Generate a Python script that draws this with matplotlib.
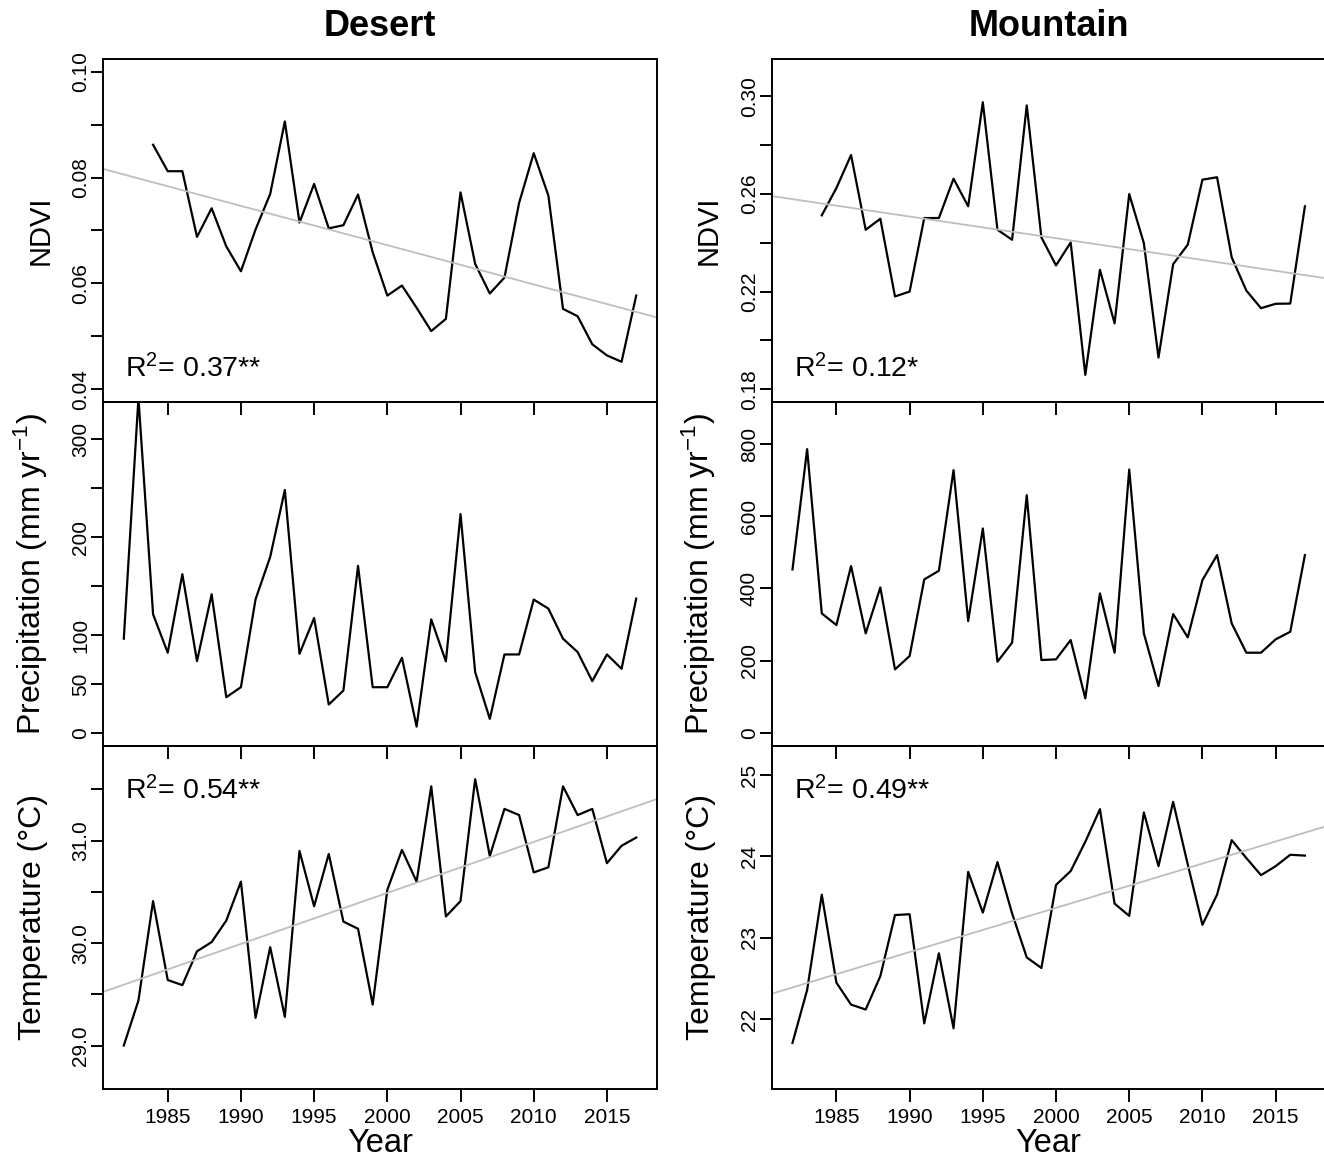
import numpy as np
import matplotlib
matplotlib.use("Agg")
import matplotlib.pyplot as plt

# =====================================================================
# Data
# =====================================================================
years = np.arange(1982, 2018)
ndvi_years = np.arange(1984, 2018)

desert_ndvi = [0.0862, 0.0812, 0.0812, 0.0688, 0.0742, 0.0670, 0.0623, 0.0702,
               0.0769, 0.0906, 0.0715, 0.0788, 0.0704, 0.0710, 0.0768, 0.0659,
               0.0577, 0.0596, 0.0554, 0.0510, 0.0533, 0.0772, 0.0637, 0.0581,
               0.0611, 0.0752, 0.0846, 0.0766, 0.0552, 0.0538, 0.0485, 0.0464,
               0.0452, 0.0577]
mountain_ndvi = [0.2512, 0.2624, 0.2759, 0.2453, 0.2498, 0.2180, 0.2200, 0.2501,
                 0.2501, 0.2662, 0.2549, 0.2975, 0.2453, 0.2412, 0.2962, 0.2422,
                 0.2307, 0.2401, 0.1859, 0.2289, 0.2070, 0.2599, 0.2398, 0.1930,
                 0.2312, 0.2392, 0.2658, 0.2668, 0.2340, 0.2204, 0.2132, 0.2150,
                 0.2151, 0.2549]

desert_precip = [96.5, 342.0, 121.4, 82.2, 162.3, 73.6, 141.8, 36.8, 47.0, 136.7,
                 180.0, 248.2, 81.1, 117.6, 29.3, 43.6, 170.8, 47.0, 47.0, 77.0,
                 6.8, 116.2, 73.3, 223.6, 62.4, 14.7, 80.4, 80.4, 136.4, 127.2,
                 96.5, 82.8, 53.2, 80.4, 65.8, 137.4]
mountain_precip = [452.7, 786.2, 330.7, 298.4, 461.9, 275.3, 402.8, 175.5, 212.5,
                   425.0, 449.0, 728.0, 309.5, 566.3, 196.8, 249.4, 658.7, 201.4,
                   203.2, 256.8, 95.2, 386.1, 221.7, 729.8, 275.3, 129.3, 328.9,
                   264.2, 423.1, 492.4, 303.0, 221.7, 221.7, 258.7, 279.9, 492.4]

desert_temp = [29.00, 29.44, 30.41, 29.64, 29.59, 29.92, 30.01, 30.22, 30.60,
               29.27, 29.96, 29.28, 30.90, 30.36, 30.87, 30.21, 30.14, 29.40,
               30.52, 30.91, 30.60, 31.53, 30.26, 30.41, 31.60, 30.85, 31.31,
               31.25, 30.69, 30.74, 31.53, 31.25, 31.31, 30.78, 30.95, 31.03]
mountain_temp = [21.71, 22.36, 23.53, 22.45, 22.18, 22.12, 22.53, 23.28, 23.29,
                 21.95, 22.81, 21.89, 23.81, 23.31, 23.93, 23.30, 22.76, 22.63,
                 23.65, 23.82, 24.18, 24.58, 23.42, 23.27, 24.54, 23.88, 24.67,
                 23.90, 23.16, 23.53, 24.20, 23.98, 23.77, 23.88, 24.02, 24.01]

# R^2 annotations
desert_ndvi_r2 = "R$^2$= 0.37**"
mountain_ndvi_r2 = "R$^2$= 0.12*"
desert_temp_r2 = "R$^2$= 0.54**"
mountain_temp_r2 = "R$^2$= 0.49**"

# ticks / tick labels
year_ticks = [1985, 1990, 1995, 2000, 2005, 2010, 2015]
year_labels = ["1985", "1990", "1995", "2000", "2005", "2010", "2015"]

desert_ndvi_ticks = [0.04, 0.05, 0.06, 0.07, 0.08, 0.09, 0.10]
desert_ndvi_labels = ["0.04", "", "0.06", "", "0.08", "", "0.10"]
mountain_ndvi_ticks = [0.18, 0.20, 0.22, 0.24, 0.26, 0.28, 0.30]
mountain_ndvi_labels = ["0.18", "", "0.22", "", "0.26", "", "0.30"]
desert_precip_ticks = [0, 50, 100, 150, 200, 250, 300]
desert_precip_labels = ["0", "50", "100", "", "200", "", "300"]
mountain_precip_ticks = [0, 200, 400, 600, 800]
mountain_precip_labels = ["0", "200", "400", "600", "800"]
desert_temp_ticks = [29.0, 29.5, 30.0, 30.5, 31.0, 31.5]
desert_temp_labels = ["29.0", "", "30.0", "", "31.0", ""]
mountain_temp_ticks = [22, 23, 24, 25]
mountain_temp_labels = ["22", "23", "24", "25"]

# =====================================================================
# Style
# =====================================================================
plt.rcParams["font.family"] = ["Liberation Sans", "DejaVu Sans"]
plt.rcParams["mathtext.fontset"] = "custom"
plt.rcParams["mathtext.rm"] = "Liberation Sans"
plt.rcParams["mathtext.it"] = "Liberation Sans:italic"
plt.rcParams["mathtext.bf"] = "Liberation Sans:bold"
plt.rcParams["mathtext.default"] = "regular"

XLIM = (1980.6, 2018.4)
LINE_W = 1.6
TREND_COLOR = "#BEBEBE"


def draw_panel(ax, x, y, ylim, yticks, yticklabels, ylabel, ylabel_size,
               label_x, r2=None, r2_y=0.07, bottom=False):
    """One box of the grid: black series, optional grey OLS trend + R^2."""
    ax.set_facecolor("none")
    x = np.asarray(x, dtype=float)
    y = np.asarray(y, dtype=float)
    ax.plot(x, y, color="black", lw=LINE_W)

    if r2 is not None:
        slope, icpt = np.polyfit(x, y, 1)
        xm = x.mean()
        ax.axline((xm, icpt + slope * xm), slope=slope, color=TREND_COLOR, lw=1.3)
        ax.text(0.039, r2_y, r2, transform=ax.transAxes, fontsize=20.5,
                va="baseline", ha="left")

    ax.set_xlim(XLIM)
    ax.set_ylim(ylim)

    ax.set_xticks(year_ticks)
    if bottom:
        ax.set_xticklabels(year_labels)
        ax.set_xlabel("Year", fontsize=23.5, va="baseline")
        ax.xaxis.set_label_coords(0.5, -0.184)
    else:
        ax.set_xticklabels([])

    ax.set_yticks(yticks)
    ax.set_yticklabels(yticklabels, rotation=90, va="center")

    ax.tick_params(direction="out", length=9, width=1.4, labelsize=15)
    ax.tick_params(axis="x", pad=4.5)
    ax.tick_params(axis="y", pad=0.5)
    for sp in ax.spines.values():
        sp.set_linewidth(1.4)

    ax.set_ylabel(ylabel, fontsize=ylabel_size, va="baseline")
    ax.yaxis.set_label_coords(label_x, 0.5)


fig = plt.figure(figsize=(13.24, 11.60), dpi=100)

col_x = [0.07802, 0.58308]
col_w = 0.41798
rows = [(0.65345, 0.29569), (0.35690, 0.29655), (0.06121, 0.29569)]

axes = [[fig.add_axes([cx, rb, col_w, rh]) for cx in col_x] for rb, rh in rows]

# ---- Desert column ----
draw_panel(axes[0][0], ndvi_years, desert_ndvi, (0.0376, 0.1024),
           desert_ndvi_ticks, desert_ndvi_labels, "NDVI", 21, -0.0995,
           r2=desert_ndvi_r2, r2_y=0.071)
draw_panel(axes[1][0], years, desert_precip, (-13, 338),
           desert_precip_ticks, desert_precip_labels,
           "Precipitation (mm yr$^{-1}$)", 23, -0.113)
draw_panel(axes[2][0], years, desert_temp, (28.576, 31.924),
           desert_temp_ticks, desert_temp_labels, "Temperature (°C)", 23, -0.113,
           r2=desert_temp_r2, r2_y=0.845, bottom=True)

# ---- Mountain column ----
draw_panel(axes[0][1], ndvi_years, mountain_ndvi, (0.1748, 0.3152),
           mountain_ndvi_ticks, mountain_ndvi_labels, "NDVI", 21, -0.0995,
           r2=mountain_ndvi_r2, r2_y=0.071)
draw_panel(axes[1][1], years, mountain_precip, (-37, 917),
           mountain_precip_ticks, mountain_precip_labels,
           "Precipitation (mm yr$^{-1}$)", 23, -0.113)
draw_panel(axes[2][1], years, mountain_temp, (21.144, 25.356),
           mountain_temp_ticks, mountain_temp_labels, "Temperature (°C)", 23, -0.113,
           r2=mountain_temp_r2, r2_y=0.845, bottom=True)

axes[0][0].set_title("Desert", fontsize=26, fontweight="bold", pad=16.8)
axes[0][1].set_title("Mountain", fontsize=26, fontweight="bold", pad=16.8)

fig.savefig("out.png", dpi=100)
